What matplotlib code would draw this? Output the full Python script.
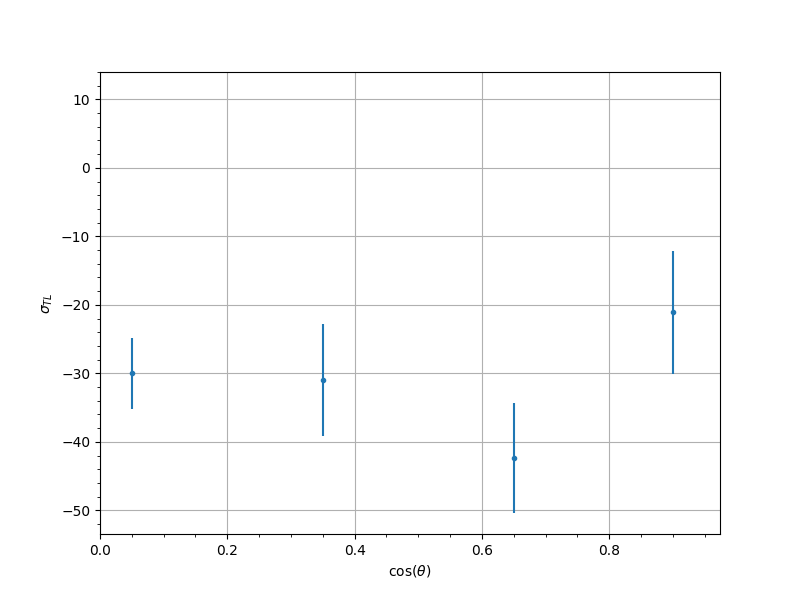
import matplotlib
matplotlib.use("Agg")
import matplotlib.pyplot as plt

cos_theta = [0.05, 0.35, 0.65, 0.9]
sigma_tl = [-30.0, -31.0, -42.4, -21.1]
sigma_err = [5.2, 8.2, 8.0, 9.0]

fig, ax = plt.subplots(figsize=(8, 6), dpi=100)
ax.errorbar(cos_theta, sigma_tl, yerr=sigma_err, fmt='.', color='#1f77b4')
ax.set_xlim(0, 0.974)
ax.set_ylim(-53.46, 14.0)
ax.minorticks_on()
ax.grid(True, which='major')
ax.set_axisbelow(True)
ax.set_xlabel(r'$\cos(\theta)$')
ax.set_ylabel(r'$\sigma_{TL}$')
fig.savefig("out.png", dpi=100)
